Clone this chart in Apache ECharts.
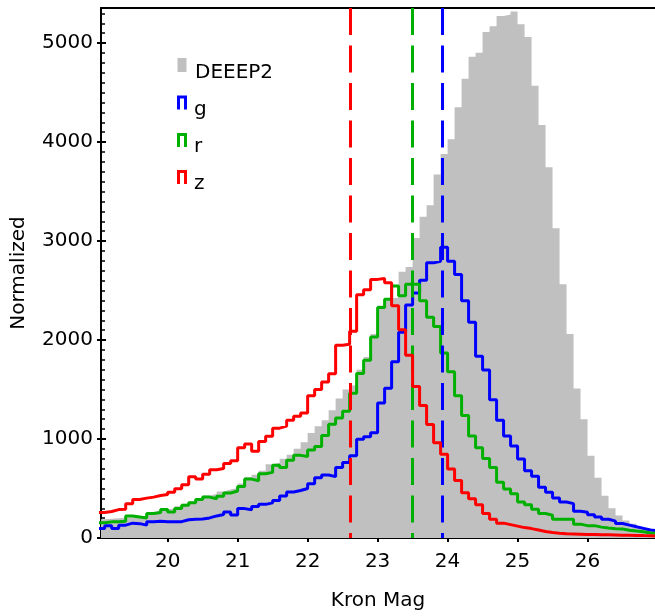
<!DOCTYPE html>
<html><head><meta charset="utf-8">
<script src="https://cdn.jsdelivr.net/npm/echarts@6/dist/echarts.min.js"></script>
<style>html,body{margin:0;padding:0;background:#fff}#c{width:655px;height:616px}</style>
</head><body><div id="c"></div>
<script>
// Histogram bins: left edges start at binStart, width binWidth (80 bins, 19.0 .. 26.9)
const binStart = 19.0;
const binWidth = 0.1;

const deeep2 = [
  190,195,200,205,210,215,225,260,280,290,
  297,320,347,370,385,430,445,470,490,505,
  550,615,640,680,745,760,800,840,903,967,
  1060,1130,1190,1290,1410,1500,1540,1700,1830,2060,
  2350,2420,2430,2690,2737,3030,3247,3363,3673,3880,
  4030,4353,4640,4863,4903,5113,5170,5273,5290,5320,
  5190,5063,4570,4173,3747,3130,2563,2060,1510,1200,
  830,610,427,300,227,177,144,110,87,70
];
const gBand = [
  95,125,95,130,150,145,130,165,170,163,
  163,165,185,190,192,203,223,237,263,232,
  297,285,318,340,355,378,425,465,480,500,
  547,610,637,620,713,763,830,997,1023,1063,
  1363,1513,1780,2080,2355,2475,2603,2780,2797,2937,
  2797,2663,2397,2180,1837,1697,1397,1190,1030,930,
  797,680,623,513,463,403,363,347,270,260,
  235,213,190,170,147,130,113,97,80,75
];
const rBand = [
  155,163,165,170,223,213,203,247,257,287,
  263,297,330,357,390,413,397,423,455,475,
  520,595,578,650,663,735,713,785,835,823,
  890,925,1035,1150,1213,1280,1463,1663,1797,2030,
  2330,2413,2547,2447,2563,2565,2397,2230,2137,1870,
  1680,1437,1237,1030,913,803,713,563,495,447,
  363,337,290,247,230,190,190,190,140,125,
  125,110,100,93,90,78,70,63,50,45
];
const zBand = [
  258,268,287,290,347,390,403,413,430,440,
  463,497,537,620,597,643,690,703,752,780,
  913,950,877,975,1027,1110,1130,1190,1230,1263,
  1437,1500,1575,1660,1947,1957,2090,2457,2507,2613,
  2623,2580,2347,2103,1847,1530,1340,1147,963,847,
  697,580,457,397,337,247,190,150,135,120,
  105,95,80,65,55,47,42,40,38,36,
  35,33,32,30,28,27,25,24,22,20
];
// median magnitudes (dashed vertical lines)
const medianNames = ['g','r','z'];
const medianMags = [23.93, 23.49, 22.61];

const xTicks = [20,21,22,23,24,25,26];
const yTicks = [0,1000,2000,3000,4000,5000];
const legendNames = ['DEEEP2','g','r','z'];

const X_MIN = 19.047, X_MAX = 26.964, Y_MIN = 0, Y_MAX = 5355;
const colors = {DEEEP2:'#c0c0c0', g:'#0000ff', r:'#00b000', z:'#ff0000'};
const FONT = 'DejaVu Sans';

function stepData(vals){
  const pts = vals.map((v,i)=>[+(binStart+i*binWidth).toFixed(2), v]);
  pts.push([+(binStart+vals.length*binWidth).toFixed(2), vals[vals.length-1]]);
  return pts;
}
const xMinor = [];
for (let i=191;i<=269;i++){ if (i%10!==0) xMinor.push(i/10); }
const yMinor = [];
for (let v=100; v<Y_MAX; v+=100){ if (v%1000!==0) yMinor.push(v); }

const black = {color:'#000', width:2};
function xAx(extra){ return Object.assign({type:'value', min:X_MIN, max:X_MAX, position:'bottom',
  axisLine:{show:false}, axisTick:{show:false}, axisLabel:{show:false}, splitLine:{show:false}}, extra); }
function yAx(extra){ return Object.assign({type:'value', min:Y_MIN, max:Y_MAX, position:'left',
  axisLine:{show:false}, axisTick:{show:false}, axisLabel:{show:false}, splitLine:{show:false}}, extra); }

const chart = echarts.init(document.getElementById('c'), null, {renderer:'canvas'});

const series = [
  {name:'DEEEP2', type:'line', step:'end', data:stepData(deeep2), symbol:'none', showSymbol:false,
   lineStyle:{width:0, opacity:0}, areaStyle:{color:colors.DEEEP2, opacity:1}, z:1, animation:false},
  {name:'g', type:'line', step:'end', data:stepData(gBand), symbol:'none', showSymbol:false,
   lineStyle:{width:3, color:colors.g}, z:3, animation:false},
  {name:'r', type:'line', step:'end', data:stepData(rBand), symbol:'none', showSymbol:false,
   lineStyle:{width:3, color:colors.r}, z:4, animation:false},
  {name:'z', type:'line', step:'end', data:stepData(zBand), symbol:'none', showSymbol:false,
   lineStyle:{width:3, color:colors.z}, z:5, animation:false}
];
medianNames.forEach((n,i)=>{
  series.push({type:'line', data:[], z:8, animation:false,
    markLine:{silent:true, symbol:['none','none'], label:{show:false}, animation:false,
      lineStyle:{type:[27,10.5], width:3, color:colors[n]},
      data:[[{coord:[medianMags[i], Y_MAX]},{coord:[medianMags[i], 0]}]]}});
});

// legend drawn as graphics (markers + texts)
const legTop = [58, 95.5, 133, 170];
const legText = [73, 110, 147, 184];
const graphic = [];
legendNames.forEach((n,i)=>{
  if (i===0){
    graphic.push({type:'rect', shape:{x:177.5, y:legTop[0], width:9, height:14}, style:{fill:colors[n]}});
  } else {
    graphic.push({type:'polyline', shape:{points:[[178.5,legTop[i]+14],[178.5,legTop[i]+1.5],[185.5,legTop[i]+1.5],[185.5,legTop[i]+14]]},
      style:{stroke:colors[n], lineWidth:3, fill:null}});
  }
  graphic.push({type:'text', x:(i===0?195:194), y:legText[i],
    style:{text:n, font:'20px "'+FONT+'"', fill:'#000', verticalAlign:'middle', align:'left'}});
});

const plain = v => String(v);

chart.setOption({
  animation:false,
  grid:{left:101, top:8, width:555, height:535, containLabel:false},
  xAxis:[
    xAx({axisLine:{show:true, lineStyle:black},
      axisTick:{show:true, inside:true, length:5, customValues:xTicks, lineStyle:black},
      axisLabel:{show:true, customValues:xTicks, margin:14, fontSize:20, fontFamily:FONT, color:'#000', formatter:plain},
      name:'Kron Mag', nameLocation:'middle', nameGap:53,
      nameTextStyle:{fontSize:20, fontFamily:FONT, color:'#000'}}),
    xAx({axisTick:{show:true, inside:true, length:3.5, customValues:xMinor, lineStyle:{color:'#000', width:1.5}}}),
    xAx({axisTick:{show:true, inside:false, length:4, customValues:xTicks, lineStyle:black}}),
    xAx({position:'top', axisLine:{show:true, lineStyle:black}})
  ],
  yAxis:[
    yAx({axisLine:{show:true, lineStyle:black},
      axisTick:{show:true, inside:true, length:5, customValues:yTicks, lineStyle:black},
      axisLabel:{show:true, customValues:yTicks, margin:8, fontSize:20, fontFamily:FONT, color:'#000', formatter:plain},
      name:'Normalized', nameLocation:'middle', nameGap:72, nameRotate:90,
      nameTextStyle:{fontSize:20, fontFamily:FONT, color:'#000'}}),
    yAx({axisTick:{show:true, inside:true, length:4, customValues:yMinor, lineStyle:{color:'#000', width:1.5}}}),
    yAx({axisTick:{show:true, inside:false, length:4, customValues:yTicks, lineStyle:black}})
  ],
  series:series,
  graphic:graphic
});
</script></body></html>
